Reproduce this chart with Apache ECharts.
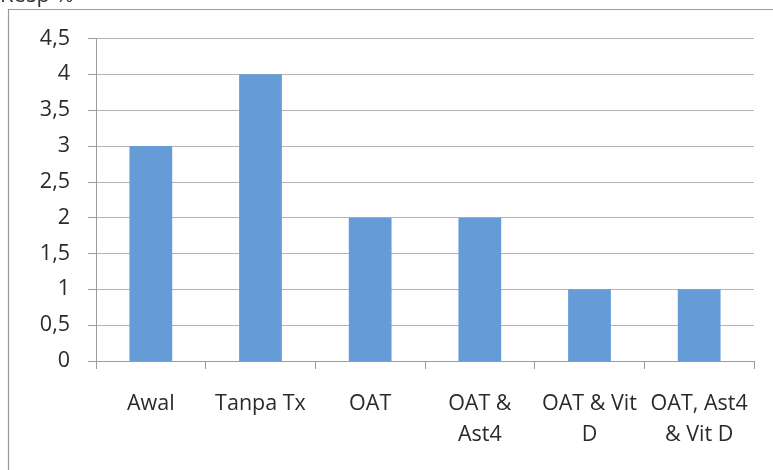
<!DOCTYPE html>
<html>
<head>
<meta charset="utf-8">
<style>
  html, body { margin: 0; padding: 0; background: #ffffff; }
  #chart { width: 773px; height: 470px; }
</style>
<script src="https://cdn.jsdelivr.net/npm/echarts@6/dist/echarts.min.js"></script>
</head>
<body>
<div id="chart"></div>
<script>
// Treatment groups (tick labels wrap as in the printed figure)
const categories = ['Awal', 'Tanpa Tx', 'OAT', 'OAT &\nAst4', 'OAT & Vit\nD', 'OAT, Ast4\n& Vit D'];
// Score per group
const values = [3, 4, 2, 2, 1, 1];
// Value axis range
const yMin = 0;
const yMax = 4.5;
const yStep = 0.5;

const FONT = '"Open Sans", "DejaVu Sans", sans-serif';
const chart = echarts.init(document.getElementById('chart'), null, { renderer: 'canvas' });

chart.setOption({
  animation: false,
  backgroundColor: '#ffffff',
  textStyle: { fontFamily: FONT },
  graphic: [
    // frame around the chart area (continues past the page edge)
    {
      type: 'rect',
      shape: { x: 8.5, y: 9.5, width: 800, height: 500 },
      style: { fill: 'none', stroke: '#9a9a9a', lineWidth: 1.2 }
    },
    // caption line above the frame, mostly cut off
    {
      type: 'text',
      left: 0,
      top: -15,
      style: { text: 'Resp %', font: '22px ' + FONT, fill: '#333333' }
    }
  ],
  grid: { left: 96, right: 19, top: 38.5, bottom: 109, containLabel: false },
  xAxis: {
    type: 'category',
    data: categories,
    boundaryGap: true,
    axisLine: { show: true, lineStyle: { color: '#9c9c9c', width: 1 } },
    axisTick: { show: true, alignWithLabel: false, length: 8, lineStyle: { color: '#9c9c9c' } },
    axisLabel: {
      color: '#2a2a2a',
      fontSize: 21.5,
      fontFamily: FONT,
      margin: 27,
      lineHeight: 31,
      interval: 0
    },
    splitLine: { show: false }
  },
  yAxis: {
    type: 'value',
    min: yMin,
    max: yMax,
    interval: yStep,
    axisLine: { show: true, lineStyle: { color: '#9c9c9c', width: 1 } },
    axisTick: { show: true, length: 8, lineStyle: { color: '#9c9c9c' } },
    axisLabel: {
      color: '#2a2a2a',
      fontSize: 21.5,
      fontFamily: FONT,
      margin: 26,
      formatter: v => String(v).replace('.', ',')
    },
    splitLine: { show: true, lineStyle: { color: '#b4b4b4', width: 1 } }
  },
  series: [{
    type: 'bar',
    data: values,
    barWidth: '39%',
    itemStyle: { color: '#659cd7' }
  }]
});
</script>
</body>
</html>
